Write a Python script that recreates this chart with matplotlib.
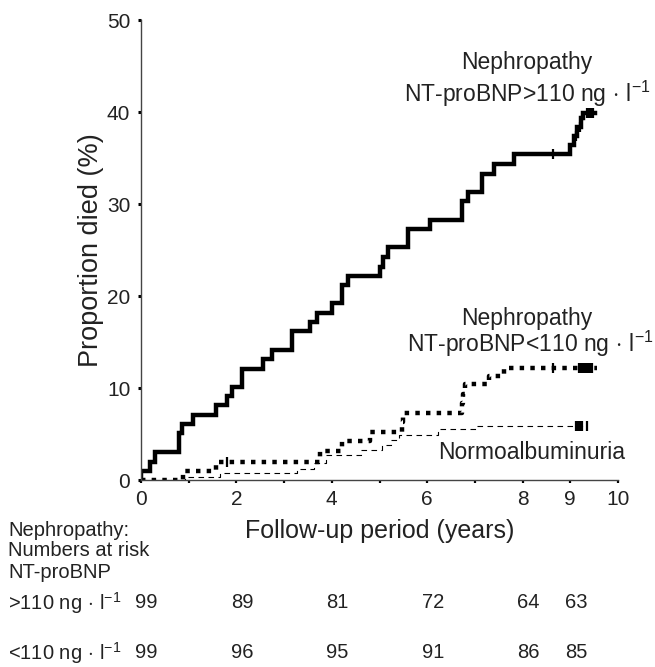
import numpy as np
import matplotlib
matplotlib.use("Agg")
import matplotlib.pyplot as plt
import matplotlib.transforms as mtransforms

plt.rcParams['font.family'] = ['Liberation Sans', 'DejaVu Sans']
plt.rcParams['mathtext.fontset'] = 'custom'
plt.rcParams['mathtext.rm'] = 'Liberation Sans'
plt.rcParams['mathtext.it'] = 'Liberation Sans:italic'

# Nephropathy, NT-proBNP > 110 ng/l (step times in years, cumulative % died)
hi_t = [0, 0.01, 0.19, 0.29, 0.80, 0.85, 1.10, 1.57, 1.81, 1.90, 2.11, 2.56, 2.74,
        3.16, 3.54, 3.68, 4.00, 4.21, 4.35, 5.01, 5.08, 5.18, 5.60, 6.06, 6.72,
        6.86, 7.14, 7.39, 7.81, 9.00, 9.08, 9.15, 9.22, 9.27]
hi_pct = [0, 1.0, 2.0, 3.0, 5.1, 6.1, 7.1, 8.1, 9.1, 10.1, 12.1, 13.1, 14.1,
          16.2, 17.2, 18.2, 19.2, 21.2, 22.2, 23.2, 24.2, 25.3, 27.3, 28.3, 30.3,
          31.3, 33.3, 34.3, 35.4, 36.4, 37.4, 38.4, 39.4, 39.9]
hi_end = 9.52
hi_cens = [8.63, 9.12, 9.20, 9.36, 9.39, 9.42, 9.45, 9.48]

# Nephropathy, NT-proBNP < 110 ng/l
lo_t = [0, 0.89, 1.57, 3.75, 4.21, 4.80, 5.47, 5.50, 6.72, 6.76, 6.80, 7.30, 7.62]
lo_pct = [0, 1.0, 2.0, 3.1, 4.2, 5.2, 6.3, 7.3, 8.4, 9.4, 10.4, 11.3, 12.2]
lo_end = 9.55
lo_cens = [1.80, 8.63, 9.18, 9.22, 9.26, 9.30, 9.34, 9.38, 9.42, 9.46]

# Normoalbuminuria
no_t = [0, 0.93, 1.66, 3.28, 3.62, 3.87, 4.62, 5.05, 5.24, 5.40, 6.22, 7.02]
no_pct = [0, 0.36, 0.72, 1.2, 1.8, 2.7, 3.3, 3.8, 4.3, 4.9, 5.5, 5.9]
no_end = 9.36
no_cens = [9.12, 9.16, 9.20, 9.24, 9.36]

# numbers at risk
risk_years = [0, 2, 4, 6, 8, 9]
risk_hi = [99, 89, 81, 72, 64, 63]
risk_lo = [99, 96, 95, 91, 86, 85]


def level_at(t, times, pct):
    i = np.searchsorted(times, t, side='right') - 1
    return np.array(pct)[i]


fig = plt.figure(figsize=(6.55, 6.67), dpi=100)
ax = fig.add_axes([141 / 655, 1 - 480 / 667, 477 / 655, 460 / 667])

ax.step(hi_t + [hi_end], hi_pct + [hi_pct[-1]], where='post', color='black',
        lw=3.2, solid_joinstyle='miter')
ax.step(lo_t + [lo_end], lo_pct + [lo_pct[-1]], where='post', color='black',
        lw=3.2, linestyle=(0, (1, 1.4)))
ax.step(no_t + [no_end], no_pct + [no_pct[-1]], where='post', color='black',
        lw=0.8, linestyle=(0, (5, 4)))

for cens, times, pct in [(hi_cens, hi_t, hi_pct), (lo_cens, lo_t, lo_pct),
                         (no_cens, no_t, no_pct)]:
    ys = [level_at(c, times, pct) for c in cens]
    ax.plot(cens, ys, linestyle='none', marker='|', ms=7, mew=1.6, color='black')

ax.set_xlim(0, 10)
ax.set_ylim(0, 50)
ax.set_xticks(range(11))
ax.set_xticklabels(['0', '', '2', '', '4', '', '6', '', '8', '9', '10'])
ax.set_yticks(range(0, 51, 10))
for s in ['top', 'right']:
    ax.spines[s].set_visible(False)
for s in ['left', 'bottom']:
    ax.spines[s].set_color('#444444')
    ax.spines[s].set_linewidth(1.0)
ax.tick_params(axis='y', direction='out', length=2.2, width=2.2, pad=5.5,
               labelsize=15, colors='black', labelcolor='#222222')
ax.tick_params(axis='x', direction='out', length=2.2, width=1.6, pad=5.0,
               labelsize=15, colors='black', labelcolor='#222222')

ax.set_ylabel('Proportion died (%)', fontsize=19.5, color='#222222')
ax.yaxis.set_label_coords(-0.078, 0.5)
ax.set_xlabel('Follow-up period (years)', fontsize=18, color='#222222')
ax.xaxis.set_label_coords(0.5, -0.085)

unit = r'ng$\,\cdot\,$l$^{-1}$'
afs = 16.5
ax.text(8.09, 45.4, 'Nephropathy', ha='center', va='center', fontsize=afs,
        color='#222222', clip_on=False)
ax.text(8.09, 42.0, 'NT-proBNP>110 ' + unit, ha='center', va='center',
        fontsize=afs, color='#222222', clip_on=False)
ax.text(8.09, 17.6, 'Nephropathy', ha='center', va='center', fontsize=afs,
        color='#222222', clip_on=False)
ax.text(8.17, 14.8, 'NT-proBNP<110 ' + unit, ha='center', va='center',
        fontsize=afs, color='#222222', clip_on=False)
ax.text(8.18, 3.0, 'Normoalbuminuria', ha='center', va='center', fontsize=afs,
        color='#222222', clip_on=False)

# numbers at risk table
fs = 14.5
for txt, py in [('Nephropathy:', 530), ('Numbers at risk', 551), ('NT-proBNP', 573)]:
    fig.text(8 / 655, 1 - py / 667, txt, ha='left', va='center', fontsize=fs,
             color='#222222')
fig.text(8 / 655, 1 - 603 / 667, '>110 ' + unit, ha='left', va='center',
         fontsize=fs, color='#222222')
fig.text(8 / 655, 1 - 653 / 667, '<110 ' + unit, ha='left', va='center',
         fontsize=fs, color='#222222')
trans = mtransforms.blended_transform_factory(ax.transData, fig.transFigure)
for yr, a, b in zip(risk_years, risk_hi, risk_lo):
    ax.text(yr + 0.12, 1 - 603 / 667, str(a), transform=trans, ha='center',
            va='center', fontsize=fs, color='#222222')
    ax.text(yr + 0.12, 1 - 653 / 667, str(b), transform=trans, ha='center',
            va='center', fontsize=fs, color='#222222')

fig.savefig('out.png', dpi=100)
